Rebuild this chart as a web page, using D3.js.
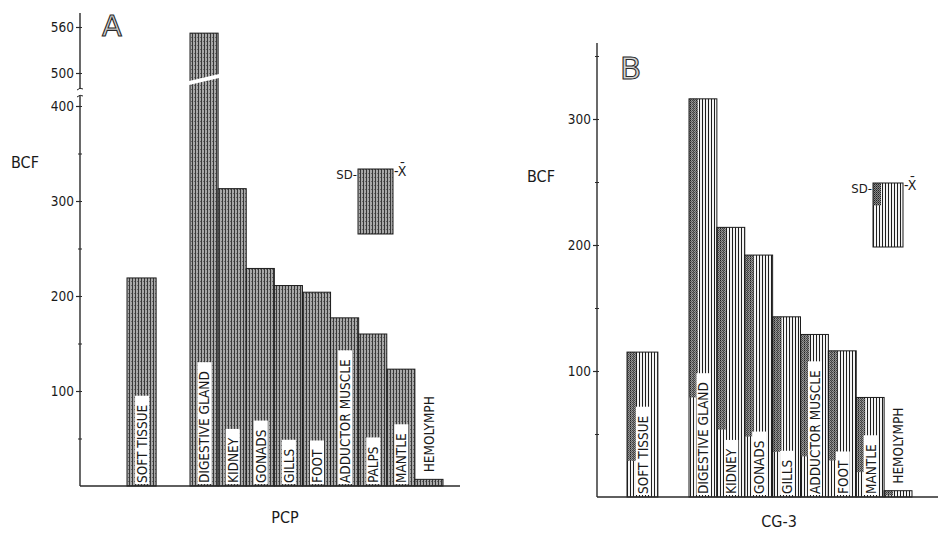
<!DOCTYPE html>
<html>
<head>
<meta charset="utf-8">
<script src="https://cdn.jsdelivr.net/npm/d3@7"></script>
<style>
  html, body { margin: 0; padding: 0; background: #fff; }
  svg { display: block; }
  text { font-family: "DejaVu Sans", sans-serif; font-stretch: condensed; }
</style>
</head>
<body>
<svg id="chart" width="938" height="535"></svg>
<script>
// ---------------- DATA ----------------
const categoriesA = ["SOFT TISSUE", "DIGESTIVE GLAND", "KIDNEY", "GONADS", "GILLS", "FOOT", "ADDUCTOR MUSCLE", "PALPS", "MANTLE", "HEMOLYMPH"];
const valuesA = [219, 552, 313, 229, 211, 204, 177, 160, 123, 7];

const categoriesB = ["SOFT TISSUE", "DIGESTIVE GLAND", "KIDNEY", "GONADS", "GILLS", "ADDUCTOR MUSCLE", "FOOT", "MANTLE", "HEMOLYMPH"];
const valuesB = [115, 316, 214, 192, 143, 129, 116, 79, 5];

const ticksALower = [100, 200, 300, 400];
const minorALower = [50, 150, 250, 350];
const ticksAUpper = [500, 560];
const ticksB = [100, 200, 300];
const minorB = [50, 150, 250, 350];

const panelTitles = ["A", "B"];
const yLabel = "BCF";
const xLabels = ["PCP", "CG-3"];

// ---------------- SETUP ----------------
const svg = d3.select("#chart");
const defs = svg.append("defs");
const txtCol = "#1a1a1a";

// Panel A texture: grey halftone with dark vertical hatching
const pA = defs.append("pattern").attr("id", "patA").attr("patternUnits", "userSpaceOnUse")
  .attr("width", 3).attr("height", 4);
pA.append("rect").attr("width", 3).attr("height", 4).attr("fill", "#a8a8a8");
pA.append("rect").attr("x", 0).attr("width", 1).attr("height", 4).attr("fill", "#383838");
pA.append("rect").attr("x", 2).attr("y", 1).attr("width", 1).attr("height", 1).attr("fill", "#666");

// Panel B texture: black vertical lines on white
const pB = defs.append("pattern").attr("id", "patB").attr("patternUnits", "userSpaceOnUse")
  .attr("width", 3).attr("height", 3);
pB.append("rect").attr("width", 3).attr("height", 3).attr("fill", "#f4f4f4");
pB.append("rect").attr("x", 0).attr("width", 1).attr("height", 3).attr("fill", "#1e1e1e");

// Panel B dark stipple strip
const pBd = defs.append("pattern").attr("id", "patBd").attr("patternUnits", "userSpaceOnUse")
  .attr("width", 2).attr("height", 2);
pBd.append("rect").attr("width", 2).attr("height", 2).attr("fill", "#8a8a8a");
pBd.append("rect").attr("x", 0).attr("y", 0).attr("width", 1).attr("height", 1).attr("fill", "#222");
pBd.append("rect").attr("x", 1).attr("y", 1).attr("width", 1).attr("height", 1).attr("fill", "#444");

// ---------------- PANEL A ----------------
const axA = 80, baseA = 486;
const yALow = d3.scaleLinear().domain([0, 400]).range([baseA, 106]);
const yAUp = d3.scaleLinear().domain([500, 560]).range([73, 27]);
const yA = v => v <= 400 ? yALow(v) : yAUp(v);

const xA = d3.scaleBand().domain(categoriesA.slice(1)).range([190, 443]).padding(0);
const gapA = 63;
const barA = categoriesA.map((c, i) => {
  const isFirst = i === 0;
  const x0 = isFirst ? xA.range()[0] - gapA : xA(c);
  const w = isFirst ? xA.bandwidth() + 1 : xA.bandwidth();
  return { c, v: valuesA[i], x0, w };
});

const gA = svg.append("g");

gA.selectAll("rect.bar").data(barA).enter().append("rect")
  .attr("class", "bar")
  .attr("x", d => d.x0).attr("y", d => yA(d.v))
  .attr("width", d => d.w).attr("height", d => baseA - yA(d.v))
  .attr("fill", "url(#patA)").attr("stroke", "#1c1c1c").attr("stroke-width", 1);

// break in the digestive gland bar
const dg = barA[1];
gA.append("path")
  .attr("d", `M${dg.x0 - 1},${yALow(400) - 25} L${dg.x0 + dg.w + 1},${yALow(400) - 32} L${dg.x0 + dg.w + 1},${yALow(400) - 28} L${dg.x0 - 1},${yALow(400) - 21} Z`)
  .attr("fill", "#fff");

const axisColor = "#2a2a2a";
gA.append("line").attr("x1", axA).attr("x2", axA).attr("y1", baseA).attr("y2", 96)
  .attr("stroke", axisColor).attr("stroke-width", 1.4);
gA.append("line").attr("x1", axA).attr("x2", axA).attr("y1", 89).attr("y2", 13)
  .attr("stroke", axisColor).attr("stroke-width", 1.4);
[96, 89].forEach(y => {
  gA.append("path").attr("d", `M${axA - 3},${y + 1} Q${axA},${y - 2} ${axA + 3},${y}`)
    .attr("fill", "none").attr("stroke", axisColor).attr("stroke-width", 1);
});

function styleAxis(g) {
  g.select(".domain").remove();
  g.selectAll(".tick line").attr("stroke", axisColor).attr("stroke-width", 1.2);
  g.selectAll(".tick text").attr("font-size", 13.5).style("fill", txtCol)
    .style("font-family", '"DejaVu Sans", sans-serif').style("font-stretch", "condensed");
}
const axLowA = gA.append("g").attr("transform", `translate(${axA},0)`)
  .call(d3.axisLeft(yALow).tickValues(ticksALower).tickSize(4).tickPadding(2).tickFormat(d3.format("d")));
styleAxis(axLowA);
const axUpA = gA.append("g").attr("transform", `translate(${axA},0)`)
  .call(d3.axisLeft(yAUp).tickValues(ticksAUpper).tickSize(4).tickPadding(2).tickFormat(d3.format("d")));
styleAxis(axUpA);
const stubA = gA.append("g").attr("transform", `translate(${axA},0)`)
  .call(d3.axisRight(yALow).tickValues(ticksALower.concat(minorALower)).tickSize(2).tickFormat(""));
styleAxis(stubA);
const minA = gA.append("g").attr("transform", `translate(${axA},0)`)
  .call(d3.axisLeft(yALow).tickValues(minorALower).tickSize(2).tickFormat(""));
styleAxis(minA);
const stubAU = gA.append("g").attr("transform", `translate(${axA},0)`)
  .call(d3.axisRight(yAUp).tickValues(ticksAUpper).tickSize(2).tickFormat(""));
styleAxis(stubAU);

gA.append("line").attr("x1", axA).attr("x2", 460).attr("y1", baseA).attr("y2", baseA)
  .attr("stroke", axisColor).attr("stroke-width", 1.5);

// ---------------- PANEL B ----------------
const axB = 597, baseB = 497;
const yB = d3.scaleLinear().domain([0, 300]).range([baseB, 119]);
const xB = d3.scaleBand().domain(categoriesB.slice(1)).range([689, 912]).padding(0);
const gapB = 62;
const barB = categoriesB.map((c, i) => {
  const isFirst = i === 0;
  const x0 = isFirst ? xB.range()[0] - gapB : xB(c);
  const w = isFirst ? xB.bandwidth() + 3 : xB.bandwidth();
  return { c, v: valuesB[i], x0, w };
});

const gB = svg.append("g");
gB.selectAll("rect.bar").data(barB).enter().append("rect")
  .attr("class", "bar")
  .attr("x", d => d.x0).attr("y", d => yB(d.v))
  .attr("width", d => d.w).attr("height", d => baseB - yB(d.v))
  .attr("fill", "url(#patB)");
gB.selectAll("rect.strip").data(barB).enter().append("rect")
  .attr("class", "strip")
  .attr("x", d => d.x0).attr("y", d => yB(d.v))
  .attr("width", d => Math.min(9, d.w * 0.33)).attr("height", d => (baseB - yB(d.v)) * 0.75)
  .attr("fill", "url(#patBd)").attr("opacity", 0.85);
gB.selectAll("rect.outline").data(barB).enter().append("rect")
  .attr("class", "outline")
  .attr("x", d => d.x0).attr("y", d => yB(d.v))
  .attr("width", d => d.w).attr("height", d => baseB - yB(d.v))
  .attr("fill", "none").attr("stroke", "#1c1c1c").attr("stroke-width", 1);

gB.append("line").attr("x1", axB).attr("x2", axB).attr("y1", baseB).attr("y2", 43)
  .attr("stroke", axisColor).attr("stroke-width", 1.4);
const axBg = gB.append("g").attr("transform", `translate(${axB},0)`)
  .call(d3.axisLeft(yB).tickValues(ticksB).tickSize(4).tickPadding(2).tickFormat(d3.format("d")));
styleAxis(axBg);
const minB = gB.append("g").attr("transform", `translate(${axB},0)`)
  .call(d3.axisLeft(yB).tickValues(minorB).tickSize(2).tickFormat(""));
styleAxis(minB);
const stubB = gB.append("g").attr("transform", `translate(${axB},0)`)
  .call(d3.axisRight(yB).tickValues(ticksB.concat(minorB)).tickSize(2).tickFormat(""));
styleAxis(stubB);
gB.append("line").attr("x1", axB).attr("x2", 938).attr("y1", baseB).attr("y2", baseB)
  .attr("stroke", axisColor).attr("stroke-width", 1.5);

// ---------------- BAR LABELS ----------------
function addLabels(g, bars, yFn, base) {
  bars.forEach(d => {
    const cx = d.x0 + d.w / 2;
    const isHemo = d.c === "HEMOLYMPH";
    const startY = isHemo ? yFn(d.v) - 7 : base - 3;
    const lg = g.append("g").attr("transform", `translate(${cx + 0.5},${startY}) rotate(-90)`);
    const bg = lg.append("rect");
    const t = lg.append("text").attr("x", 0).attr("y", 0).attr("dy", "0.36em")
      .attr("font-size", 13.5).attr("text-anchor", "start").style("fill", txtCol).text(d.c);
    if (!isHemo) {
      const len = t.node().getComputedTextLength();
      bg.attr("x", -1).attr("y", -7).attr("width", len + 10).attr("height", 14).attr("fill", "#fff");
    } else {
      bg.remove();
    }
  });
}
addLabels(gA, barA, yA, baseA);
addLabels(gB, barB, yB, baseB);

// ---------------- TITLES / AXIS LABELS ----------------
svg.append("text").attr("x", 102).attr("y", 36).attr("font-size", 29)
  .style("fill", "#d4d4d4").style("stroke", "#2a2a2a").style("stroke-width", 1.1)
  .style("font-stretch", "normal").text(panelTitles[0]);
svg.append("text").attr("x", 620).attr("y", 79).attr("font-size", 31)
  .style("fill", "#d4d4d4").style("stroke", "#2a2a2a").style("stroke-width", 1.1)
  .style("font-stretch", "normal").text(panelTitles[1]);

svg.append("text").attr("x", 11).attr("y", 168).attr("font-size", 16).style("fill", txtCol).text(yLabel);
svg.append("text").attr("x", 527).attr("y", 182).attr("font-size", 16).style("fill", txtCol).text(yLabel);

svg.append("text").attr("x", 285).attr("y", 523).attr("text-anchor", "middle").attr("font-size", 16).style("fill", txtCol).text(xLabels[0]);
svg.append("text").attr("x", 779).attr("y", 527).attr("text-anchor", "middle").attr("font-size", 16).style("fill", txtCol).text(xLabels[1]);

// ---------------- SD / MEAN KEYS ----------------
function addKey(x, y, w, h, fill, isB) {
  const g = svg.append("g");
  g.append("rect").attr("x", x).attr("y", y).attr("width", w).attr("height", h).attr("fill", fill);
  if (isB) {
    g.append("rect").attr("x", x).attr("y", y).attr("width", 8).attr("height", h * 0.35).attr("fill", "url(#patBd)");
  }
  g.append("rect").attr("x", x).attr("y", y).attr("width", w).attr("height", h)
    .attr("fill", "none").attr("stroke", "#1c1c1c").attr("stroke-width", 1);
  g.append("text").attr("x", x - 1).attr("y", y + 10).attr("text-anchor", "end").attr("font-size", 13).style("fill", txtCol).text("SD-");
  g.append("text").attr("x", x + w + 1).attr("y", y + 7).attr("font-size", 14).style("fill", txtCol).text("-X\u0304");
}
addKey(358, 169, 35, 65, "url(#patA)", false);
addKey(873, 183, 30, 64, "url(#patB)", true);
</script>
</body>
</html>
